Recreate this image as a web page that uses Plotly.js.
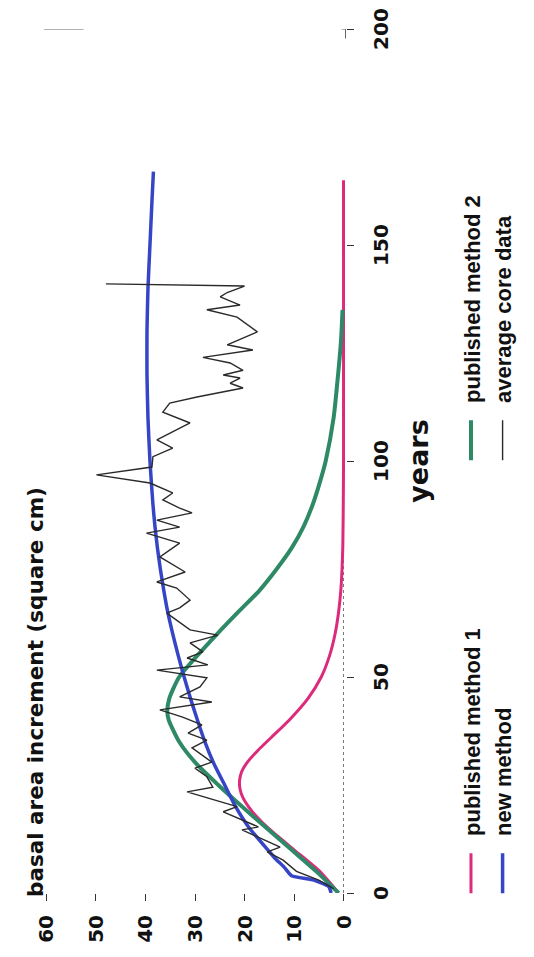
<!DOCTYPE html>
<html>
<head>
<meta charset="utf-8">
<script src="https://cdn.plot.ly/plotly-3.0.1.min.js"></script>
<style>
  html, body { margin: 0; padding: 0; background: #fff; overflow: hidden; }
  body { width: 534px; height: 957px; position: relative; }
  /* the chart is laid out landscape and turned a quarter turn counter-clockwise */
  #chart {
    position: absolute; left: 0; top: 0;
    width: 957px; height: 534px;
    transform-origin: 0 0;
    transform: translate(0, 957px) rotate(-90deg);
  }
</style>
</head>
<body>
<div id="chart"></div>
<script>
// years since establishment and basal area increment (square cm)
const method1Years = [0, 5, 10, 15, 18, 20, 22, 24, 26, 28, 30, 33, 36, 40, 45, 50, 55, 60, 65, 70, 75, 80, 90, 100, 130, 165];
const method1Values = [1, 4.8, 10, 15.2, 17.8, 19.2, 20.3, 20.9, 21, 20.6, 19.6, 17.3, 14.6, 11, 7.2, 4.5, 2.8, 1.7, 1, 0.55, 0.3, 0.15, 0.05, 0, 0, 0];

const method2Years = [0, 5, 10, 15, 20, 25, 30, 35, 40, 42, 45, 50, 55, 60, 65, 70, 75, 80, 85, 90, 95, 100, 110, 120, 128, 135];
const method2Values = [1, 5.5, 10.5, 15.5, 20.5, 25.3, 29.8, 33.2, 35.3, 35.6, 35.2, 33.2, 29.5, 25.5, 21.3, 17, 13.5, 10.4, 8, 6.2, 4.8, 3.6, 2, 1.1, 0.5, 0.2];

const newMethodYears = [0, 1.5, 3, 4, 6, 8, 10, 15, 20, 25, 30, 35, 40, 45, 50, 55, 60, 65, 70, 75, 80, 85, 90, 100, 110, 120, 130, 140, 150, 160, 167];
const newMethodValues = [2.5, 3, 6, 10.5, 12, 13.8, 15.3, 19, 21.8, 24, 26.2, 28, 29.5, 30.9, 32.2, 33.4, 34.5, 35.5, 36.3, 37, 37.6, 38.1, 38.5, 39.1, 39.5, 39.7, 39.7, 39.5, 39.1, 38.7, 38.4];

const coreYears = [1, 3, 5, 7.6, 9.5, 10.6, 14.6, 15.3, 18.8, 20, 23.4, 24.5, 26.9, 28.9, 30.3, 33.6, 35.4, 37, 38.9, 40.7, 42.4, 44.2, 45.4, 47.7, 49.8, 51.6, 52.8, 54.4, 55.8, 57.9, 59.7, 60.9, 64.8, 66, 67.8, 70.6, 72, 74.3, 77.8, 81, 83.3, 84.7, 86.3, 88, 89.1, 91, 92.6, 94.9, 96.8, 98.6, 101, 103, 104.9, 108.8, 111.3, 113.4, 114.8, 116.9, 118, 119.2, 119.9, 121, 122.7, 124, 125.7, 126.9, 129.9, 133.3, 135, 136.1, 138, 139, 140.5, 141];
const coreValues = [2, 5, 9.5, 12.2, 15.4, 12.8, 20.5, 17.2, 24.3, 21.5, 31.6, 26.4, 27.6, 30, 26.6, 30.6, 27.6, 31.4, 28.6, 32.5, 37.1, 26.6, 33.1, 29, 27.6, 37.7, 27.4, 31.6, 28.4, 31, 25.4, 31, 35.7, 33.1, 31, 33.7, 37.7, 32, 37.1, 33.1, 39.8, 33.1, 37.7, 30.6, 33.1, 36.5, 34.5, 39.1, 49.9, 38.7, 38.5, 34.5, 37.7, 31, 36.5, 35.1, 29.6, 20.3, 22.9, 20.9, 24.3, 20.3, 22.9, 28.4, 18.3, 23.5, 17.4, 21.5, 27.6, 20.9, 24.9, 23.5, 20, 48];

const yearTicks = [0, 50, 100, 150, 200];
const valueTicks = [0, 10, 20, 30, 40, 50, 60];

const PINK = '#dc2a7c';
const GREEN = '#2e8a66';
const BLUE = '#3645c6';
const CORE = '#2a2a2a';

// small lead-in so the legend text sits clear of its line sample
const GAP = '\u00a0\u00a0';

const traces = [
  { name: GAP + 'published method 1', x: method1Years, y: method1Values, mode: 'lines',
    line: { color: PINK, width: 3, shape: 'spline', smoothing: 0.6 } },
  { name: GAP + 'published method 2', x: method2Years, y: method2Values, mode: 'lines',
    line: { color: GREEN, width: 4, shape: 'spline', smoothing: 0.6 } },
  { name: GAP + 'new method', x: newMethodYears, y: newMethodValues, mode: 'lines',
    line: { color: BLUE, width: 3.5, shape: 'spline', smoothing: 0.5 } },
  { name: GAP + 'average core data', x: coreYears, y: coreValues, mode: 'lines',
    line: { color: CORE, width: 1.4 } }
];

const boldDejaVu = (size) => ({ family: 'DejaVu Sans, sans-serif', size: size, weight: 700, color: '#111' });

const layout = {
  width: 957, height: 534,
  margin: { l: 64, r: 29, t: 44, b: 188, pad: 0, autoexpand: false },
  paper_bgcolor: '#fff', plot_bgcolor: '#fff',
  showlegend: true,
  title: {
    text: 'basal area increment (square cm)',
    font: boldDejaVu(21.5),
    xref: 'container', x: 60 / 957, xanchor: 'left',
    yref: 'container', y: 1 - 35 / 534, yanchor: 'middle'
  },
  xaxis: {
    range: [0, 200],
    tickvals: yearTicks, ticktext: yearTicks.map(String),
    ticks: 'outside', ticklen: 7, tickwidth: 1, tickcolor: '#333',
    ticklabelstandoff: 10,
    tickfont: boldDejaVu(20),
    showgrid: false, zeroline: false, showline: false,
    automargin: false,
    title: { text: 'years', font: boldDejaVu(27), standoff: 17 }
  },
  yaxis: {
    range: [-0.5, 60.5],
    tickvals: valueTicks, ticktext: valueTicks.map(String),
    ticks: 'outside', ticklen: 7, tickwidth: 1, tickcolor: '#333',
    ticklabelstandoff: 10,
    tickfont: boldDejaVu(20),
    showgrid: false, zeroline: false, showline: false,
    automargin: false
  },
  legend: {
    orientation: 'h',
    x: -0.006, xanchor: 'left',
    y: -0.345, yanchor: 'top',
    entrywidth: 378, entrywidthmode: 'pixels',
    itemwidth: 40,
    font: { family: 'Liberation Sans, Arial, sans-serif', size: 22, weight: 700, color: '#111' },
    bgcolor: 'rgba(0,0,0,0)', borderwidth: 0
  },
  shapes: [
    // faint year axis along zero
    { type: 'line', xref: 'x', yref: 'y', x0: 0, x1: 80, y0: 0, y1: 0,
      line: { color: '#777', width: 1, dash: 'dot' }, layer: 'below' },
    // remnants of the frame at the far end of the year axis
    { type: 'line', xref: 'x', yref: 'y', x0: 200, x1: 200, y0: 60.7, y1: 52.5,
      line: { color: '#666', width: 1 }, layer: 'below' },
    { type: 'line', xref: 'x', yref: 'y', x0: 196, x1: 200, y0: 60.7, y1: 60.7,
      line: { color: '#777', width: 1 }, layer: 'below' },
    { type: 'line', xref: 'x', yref: 'y', x0: 200, x1: 200, y0: 0.4, y1: -0.4,
      line: { color: '#666', width: 1 }, layer: 'below' },
    { type: 'line', xref: 'x', yref: 'y', x0: 197.8, x1: 200, y0: -0.4, y1: -0.4,
      line: { color: '#666', width: 1 }, layer: 'below' }
  ]
};

Plotly.newPlot('chart', traces, layout, { staticPlot: true, displayModeBar: false });
</script>
</body>
</html>
